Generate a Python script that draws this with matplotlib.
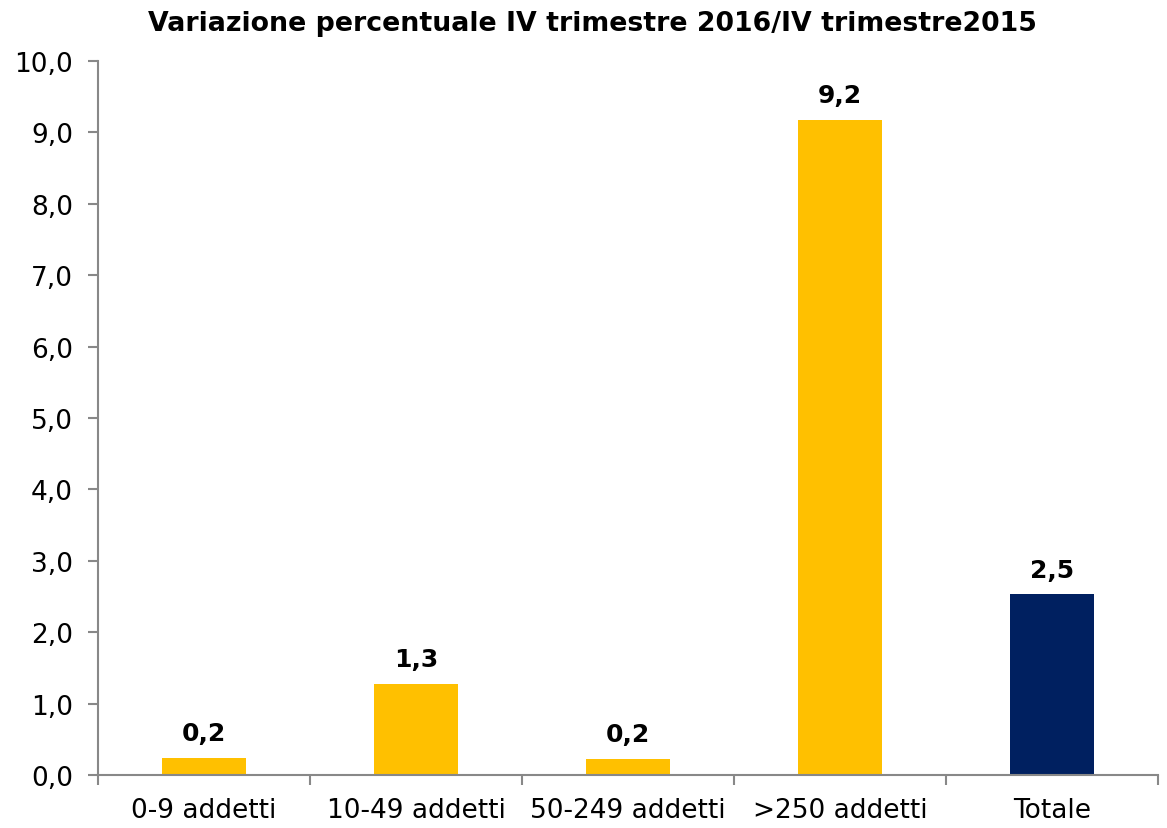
import matplotlib.pyplot as plt
import numpy as np

categories = ['0-9 addetti', '10-49 addetti', '50-249 addetti', '>250 addetti', 'Totale']
values = [0.24, 1.27, 0.22, 9.18, 2.53]
colors = ['#FFC000', '#FFC000', '#FFC000', '#FFC000', '#002060']
yticks = [0, 1, 2, 3, 4, 5, 6, 7, 8, 9, 10]

fig = plt.figure(figsize=(11.67, 8.29), dpi=100)
ax = fig.add_axes([0.084, 0.0639, 0.9083, 0.8613])

x = np.arange(len(categories))
ax.bar(x, values, width=0.4, color=colors, zorder=2)
for xi, v in zip(x, values):
    ax.text(xi, v + 0.18, f'{v:.1f}'.replace('.', ','), ha='center', va='bottom',
            fontsize=18, fontweight='bold')

ax.set_xlim(-0.5, len(categories) - 0.5)
ax.set_ylim(0, 10)
ax.set_yticks(yticks)
ax.set_yticklabels([f'{t:.1f}'.replace('.', ',') for t in yticks], fontsize=19)
ax.set_xticks(x)
ax.set_xticklabels(categories, fontsize=19)
ax.set_xticks(np.arange(len(categories) + 1) - 0.5, minor=True)
ax.tick_params(axis='x', which='major', length=0, pad=16)
ax.tick_params(axis='x', which='minor', length=7, color='#888888', width=1.5)
ax.tick_params(axis='y', length=7, color='#888888', width=1.5, pad=11)

for s in ['top', 'right']:
    ax.spines[s].set_visible(False)
for s in ['left', 'bottom']:
    ax.spines[s].set_color('#888888')
    ax.spines[s].set_linewidth(1.5)

fig.suptitle('Variazione percentuale IV trimestre 2016/IV trimestre2015',
             x=0.508, y=0.987, fontsize=19.3, fontweight='bold')

fig.savefig('out.png', dpi=100)
